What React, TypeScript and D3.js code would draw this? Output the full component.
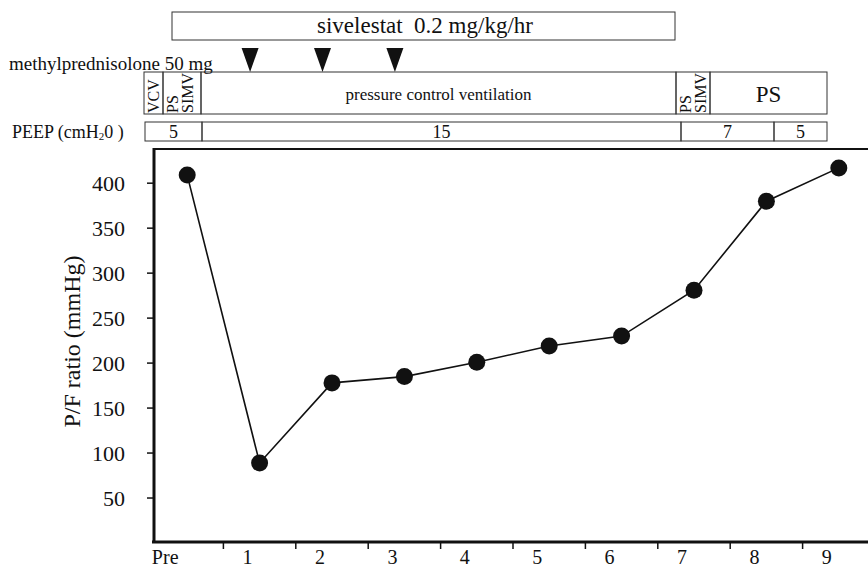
import React, { useEffect, useRef } from 'react';
import * as d3 from 'd3';

// P/F ratio over the course of treatment
const days = ['Pre', '1', '2', '3', '4', '5', '6', '7', '8', '9'];
const pfRatio = [409, 89, 178, 185, 201, 219, 230, 281, 380, 417];
const yTicks = [50, 100, 150, 200, 250, 300, 350, 400];
const steroidDays = ['1', '2', '3'];

// annotation rows (text + pixel extents)
const ventModes = [
  { x0: 144, x1: 163, rotated: ['VCV'] },
  { x0: 163, x1: 201, rotated: ['PS', 'SIMV'] },
  { x0: 201, x1: 676, label: 'pressure control ventilation' },
  { x0: 676, x1: 710, rotated: ['PS', 'SIMV'] },
  { x0: 710, x1: 827, label: 'PS' },
];
const peepValues = [
  { x0: 145, x1: 202, label: '5' },
  { x0: 202, x1: 681, label: '15' },
  { x0: 681, x1: 774, label: '7' },
  { x0: 774, x1: 827, label: '5' },
];

const W = 868, H = 568;
const font = "'Liberation Serif', 'DejaVu Serif', serif";

const App = () => {
  const ref = useRef<SVGSVGElement>(null);

  useEffect(() => {
    const svg = d3.select(ref.current);
    svg.selectAll('*').remove();

    const x = d3.scaleBand().domain(days).range([151, 875]);
    const y = d3.scaleLinear().domain([0, 438]).range([543, 149]);
    const cx = (d: string) => (x(d) as number) + x.bandwidth() / 2;

    const g = svg.append('g').style('font-family', font).attr('fill', '#111');

    // frame top + axes
    g.append('line').attr('x1', 154).attr('x2', W).attr('y1', 149).attr('y2', 149)
      .attr('stroke', '#111').attr('stroke-width', 2);
    g.append('line').attr('x1', 154).attr('x2', 154).attr('y1', 148).attr('y2', 543)
      .attr('stroke', '#111').attr('stroke-width', 3);
    g.append('line').attr('x1', 152).attr('x2', W).attr('y1', 542).attr('y2', 542)
      .attr('stroke', '#111').attr('stroke-width', 3);

    // y ticks
    yTicks.forEach(t => {
      g.append('line').attr('x1', 147).attr('x2', 154).attr('y1', y(t)).attr('y2', y(t))
        .attr('stroke', '#111').attr('stroke-width', 1.5);
      g.append('text').attr('x', 125).attr('y', y(t)).attr('dy', '0.35em')
        .attr('text-anchor', 'end').attr('font-size', 22).text(t);
    });
    g.append('text').attr('transform', `translate(80,${y(224)}) rotate(-90)`)
      .attr('text-anchor', 'middle').attr('font-size', 24).text('P/F ratio (mmHg)');

    // x ticks on band boundaries
    days.slice(1).forEach(d => {
      g.append('line').attr('x1', x(d) as number).attr('x2', x(d) as number)
        .attr('y1', 542).attr('y2', 549).attr('stroke', '#111').attr('stroke-width', 1.5);
    });
    days.forEach(d => {
      g.append('text').attr('x', d === 'Pre' ? cx(d) - 22 : cx(d) - 12).attr('y', 564)
        .attr('text-anchor', 'middle').attr('font-size', 20).text(d);
    });

    // line + points
    const line = d3.line<number>().x((_, i) => cx(days[i])).y(v => y(v));
    g.append('path').datum(pfRatio).attr('d', line).attr('fill', 'none')
      .attr('stroke', '#111').attr('stroke-width', 1.6);
    g.selectAll('circle.pt').data(pfRatio).enter().append('circle')
      .attr('cx', (_, i) => cx(days[i])).attr('cy', v => y(v)).attr('r', 8.5).attr('fill', '#111');

    // sivelestat bar
    g.append('rect').attr('x', 172).attr('y', 12).attr('width', 503).attr('height', 28)
      .attr('fill', 'none').attr('stroke', '#333').attr('stroke-width', 1);
    g.append('text').attr('x', 425).attr('y', 33).attr('text-anchor', 'middle')
      .attr('font-size', 23).style('white-space', 'pre').text('sivelestat  0.2 mg/kg/hr');

    // methylprednisolone pulses
    g.append('text').attr('x', 9).attr('y', 70).attr('font-size', 19).text('methylprednisolone 50 mg');
    steroidDays.forEach(d => {
      const c = cx(d) - 9.5;
      g.append('path').attr('d', `M${c - 8.5},48 L${c + 8.5},48 L${c},72 Z`).attr('fill', '#111');
    });

    // ventilation mode row
    ventModes.forEach(m => {
      g.append('rect').attr('x', m.x0).attr('y', 72).attr('width', m.x1 - m.x0).attr('height', 42)
        .attr('fill', 'none').attr('stroke', '#333').attr('stroke-width', 1);
      if (m.label) {
        g.append('text').attr('x', (m.x0 + m.x1) / 2).attr('y', m.label === 'PS' ? 102 : 100)
          .attr('text-anchor', 'middle')
          .attr('font-size', m.label === 'PS' ? 23 : 17).text(m.label);
      }
      if (m.rotated) {
        m.rotated.forEach((t, i) => {
          const tx = m.x0 + 15 + i * 15;
          g.append('text').attr('transform', `translate(${tx},113) rotate(-90)`)
            .attr('font-size', 16).text(t);
        });
      }
    });

    // PEEP row
    const peep = g.append('text').attr('x', 12).attr('y', 138).attr('font-size', 18);
    peep.append('tspan').text('PEEP (cmH');
    peep.append('tspan').attr('font-size', 11).attr('dy', 2).text('2');
    peep.append('tspan').attr('dy', -2).text('0 )');
    peepValues.forEach(p => {
      g.append('rect').attr('x', p.x0).attr('y', 122).attr('width', p.x1 - p.x0).attr('height', 19)
        .attr('fill', 'none').attr('stroke', '#333').attr('stroke-width', 1);
      g.append('text').attr('x', (p.x0 + p.x1) / 2).attr('y', 138).attr('text-anchor', 'middle')
        .attr('font-size', 18).text(p.label);
    });
  }, []);

  return (
    <svg ref={ref} width={W} height={H}
      style={{ position: 'absolute', left: 0, top: 0, background: '#fff' }} />
  );
};

export default App;
